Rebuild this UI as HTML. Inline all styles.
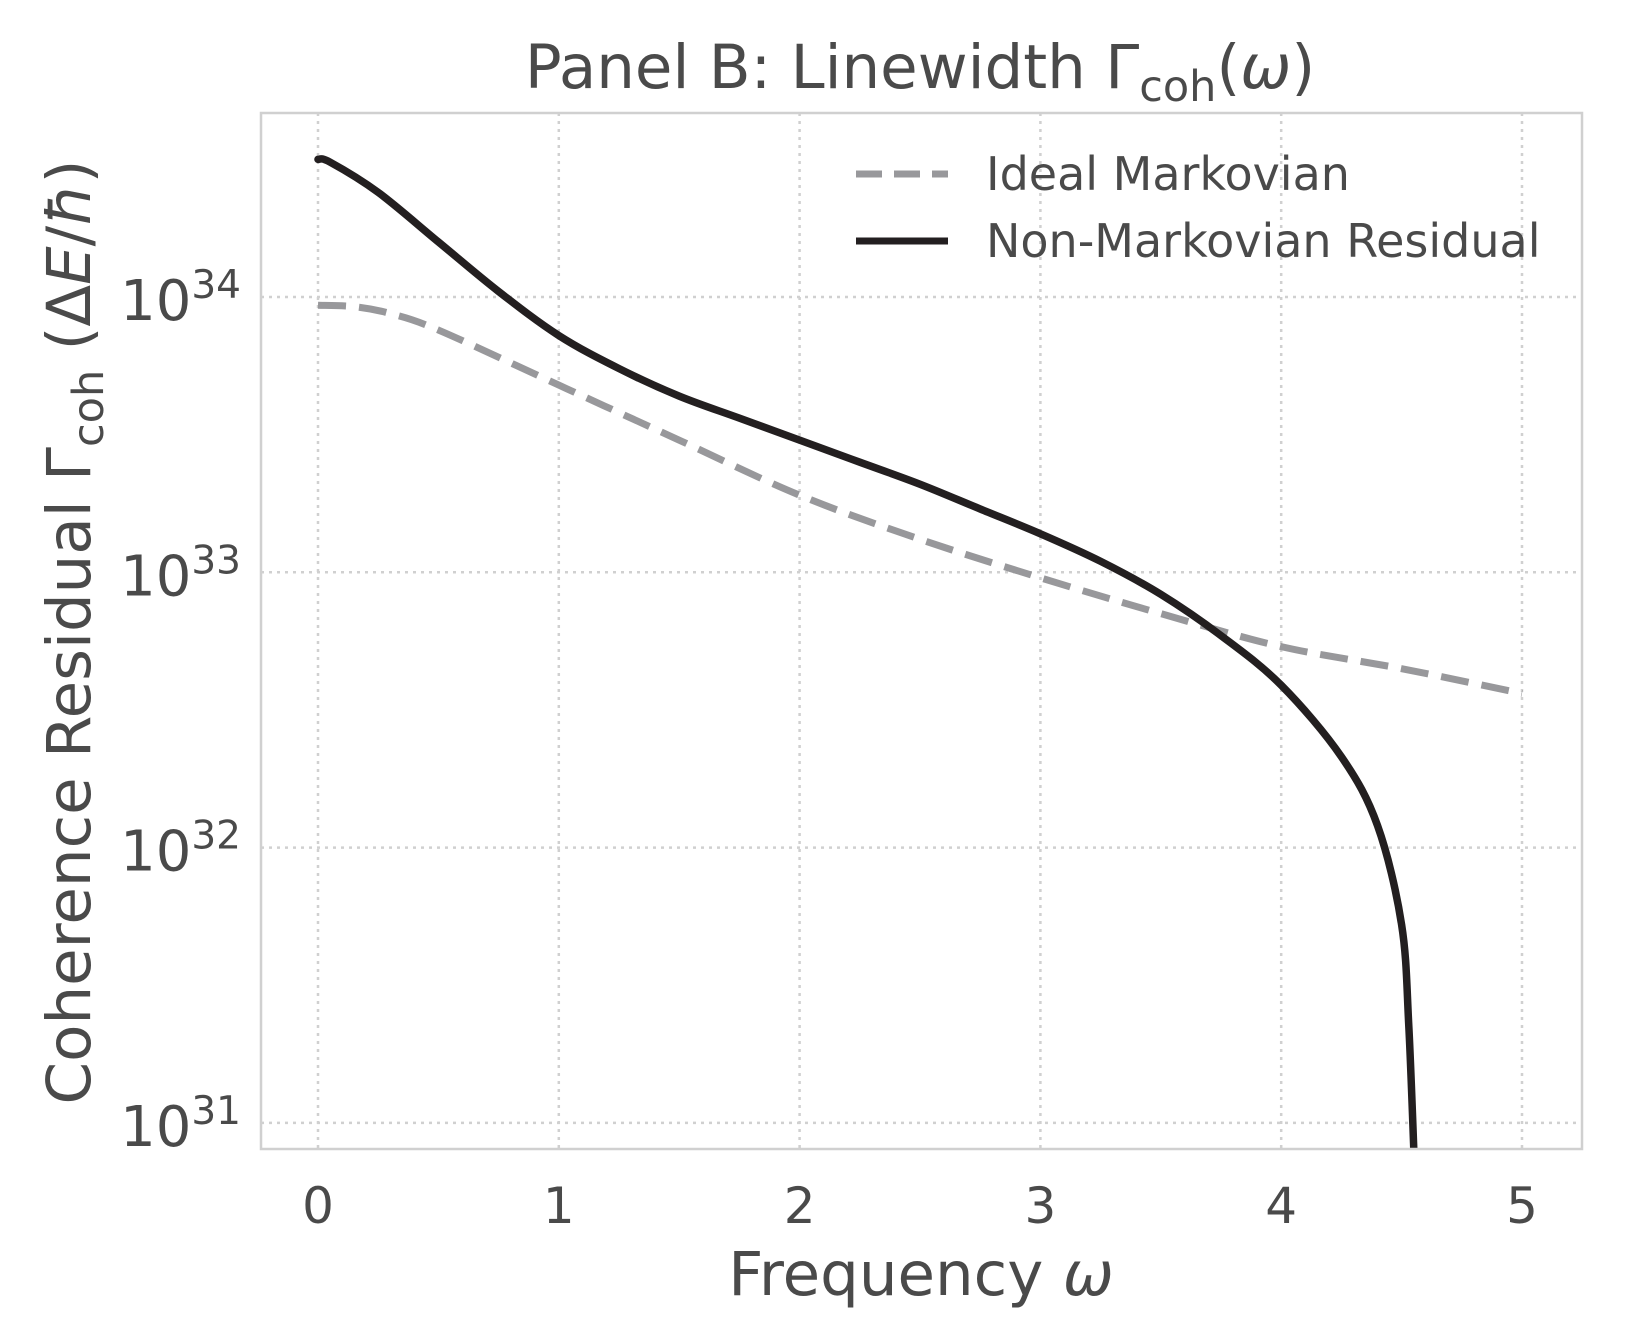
<!DOCTYPE html>
<html><head><meta charset="utf-8"><style>
body{margin:0;background:#fff}
svg{display:block;font-family:"DejaVu Sans","Liberation Sans",sans-serif}
</style></head><body>
<svg id="chart" width="1629" height="1330">
<rect x="0" y="0" width="1629" height="1330" fill="#fff"/>
<g id="grid"></g>
<g id="series"></g>
<rect x="261" y="113" width="1321" height="1036" fill="none" stroke="#d0d0d0" stroke-width="2.5"/>
<g id="ticks" fill="#4a4a4a"></g>
<text x="920" y="88" font-size="61" fill="#4a4a4a" text-anchor="middle">Panel B: Linewidth Γ<tspan font-size="43" dy="13">coh</tspan><tspan dy="-13">(</tspan><tspan font-style="italic">ω</tspan>)</text>
<text x="921" y="1295" font-size="61" fill="#4a4a4a" text-anchor="middle">Frequency <tspan font-style="italic">ω</tspan></text>
<text transform="translate(90,632) rotate(-90)" font-size="61" fill="#4a4a4a" text-anchor="middle">Coherence Residual Γ<tspan font-size="43" dy="13">coh</tspan><tspan dy="-13"> (Δ</tspan><tspan font-style="italic">E</tspan>/<tspan font-style="italic">ħ</tspan>)</text>
<g>
<line x1="856" y1="174" x2="948" y2="174" stroke="#98989b" stroke-width="7" stroke-dasharray="26,12"/>
<text x="986" y="190" font-size="46" fill="#4a4a4a">Ideal Markovian</text>
<line x1="856" y1="241" x2="948" y2="241" stroke="#231f20" stroke-width="7"/>
<text x="986" y="257" font-size="46" fill="#4a4a4a">Non-Markovian Residual</text>
</g>
</svg>
<script>
const xTicks=[0,1,2,3,4,5];
const yTickExps=[31,32,33,34];
const idealX=[0,0.15,0.3,0.5,1,1.5,2,2.5,3,3.5,4,4.5,5];
const idealLog=[33.97,33.965,33.94,33.88,33.68,33.48,33.28,33.12,32.98,32.85,32.73,32.65,32.56];
const nonX=[0,0.05,0.25,0.5,0.75,1,1.25,1.5,1.75,2,2.25,2.5,2.75,3,3.25,3.5,3.75,4,4.25,4.4,4.5,4.53,4.555];
const nonLog=[34.50,34.49,34.38,34.20,34.02,33.86,33.74,33.64,33.56,33.48,33.40,33.32,33.23,33.14,33.04,32.92,32.77,32.59,32.33,32.08,31.72,31.35,30.8];
const NS='http://www.w3.org/2000/svg';
const L=261,R=1582,T=113,B=1149;
const x0=318,xPer=240.8,y34=297,yPer=275.3;
function sx(v){return x0+v*xPer;}
function sy(e){return y34+(34-e)*yPer;}
function mk(tag,attrs,parent){const e=document.createElementNS(NS,tag);for(const k in attrs)e.setAttribute(k,attrs[k]);parent.appendChild(e);return e;}
const grid=document.getElementById('grid'),ticks=document.getElementById('ticks'),ser=document.getElementById('series');
xTicks.forEach(v=>{
 const g=mk('line',{x1:sx(v),x2:sx(v),y1:T,y2:B,stroke:'#d0d0d0','stroke-width':2.5,'stroke-dasharray':'3,5'},grid);
 
 
 const t=mk('text',{x:sx(v),y:1223,'font-size':50,'text-anchor':'middle'},ticks);
 t.textContent=v;
 
 
});
yTickExps.forEach(e=>{
 const g=mk('line',{x1:L,x2:R,y1:sy(e),y2:sy(e),stroke:'#d0d0d0','stroke-width':2.5,'stroke-dasharray':'3,5'},grid);
 
 
 const t=mk('text',{x:241,y:sy(e)+23,'font-size':56,'text-anchor':'end'},ticks);
 t.innerHTML='10<tspan font-size="39" dy="-22">'+e+'</tspan>';
 
 
});
const clip=mk('clipPath',{id:'pc'},document.getElementById('chart'));
mk('rect',{x:L,y:T,width:R-L,height:B-T},clip);
ser.setAttribute('clip-path','url(#pc)');
function path(xs,ys){
 const p=xs.map((v,i)=>[sx(v),sy(ys[i])]);
 let d='M'+p[0][0]+','+p[0][1];
 for(let i=0;i<p.length-1;i++){
  const p0=p[Math.max(0,i-1)],p1=p[i],p2=p[i+1],p3=p[Math.min(p.length-1,i+2)];
  const c1=[p1[0]+(p2[0]-p0[0])/6,p1[1]+(p2[1]-p0[1])/6],c2=[p2[0]-(p3[0]-p1[0])/6,p2[1]-(p3[1]-p1[1])/6];
  d+=' C'+c1+' '+c2+' '+p2;
 }
 return d;
}
const a=mk('path',{d:path(idealX,idealLog),fill:'none',stroke:'#98989b','stroke-width':7,'stroke-dasharray':'28,13'},ser);


const b=mk('path',{d:path(nonX,nonLog),fill:'none',stroke:'#231f20','stroke-width':7.5,'stroke-linejoin':'round','stroke-linecap':'round'},ser);


</script>
</body></html>
